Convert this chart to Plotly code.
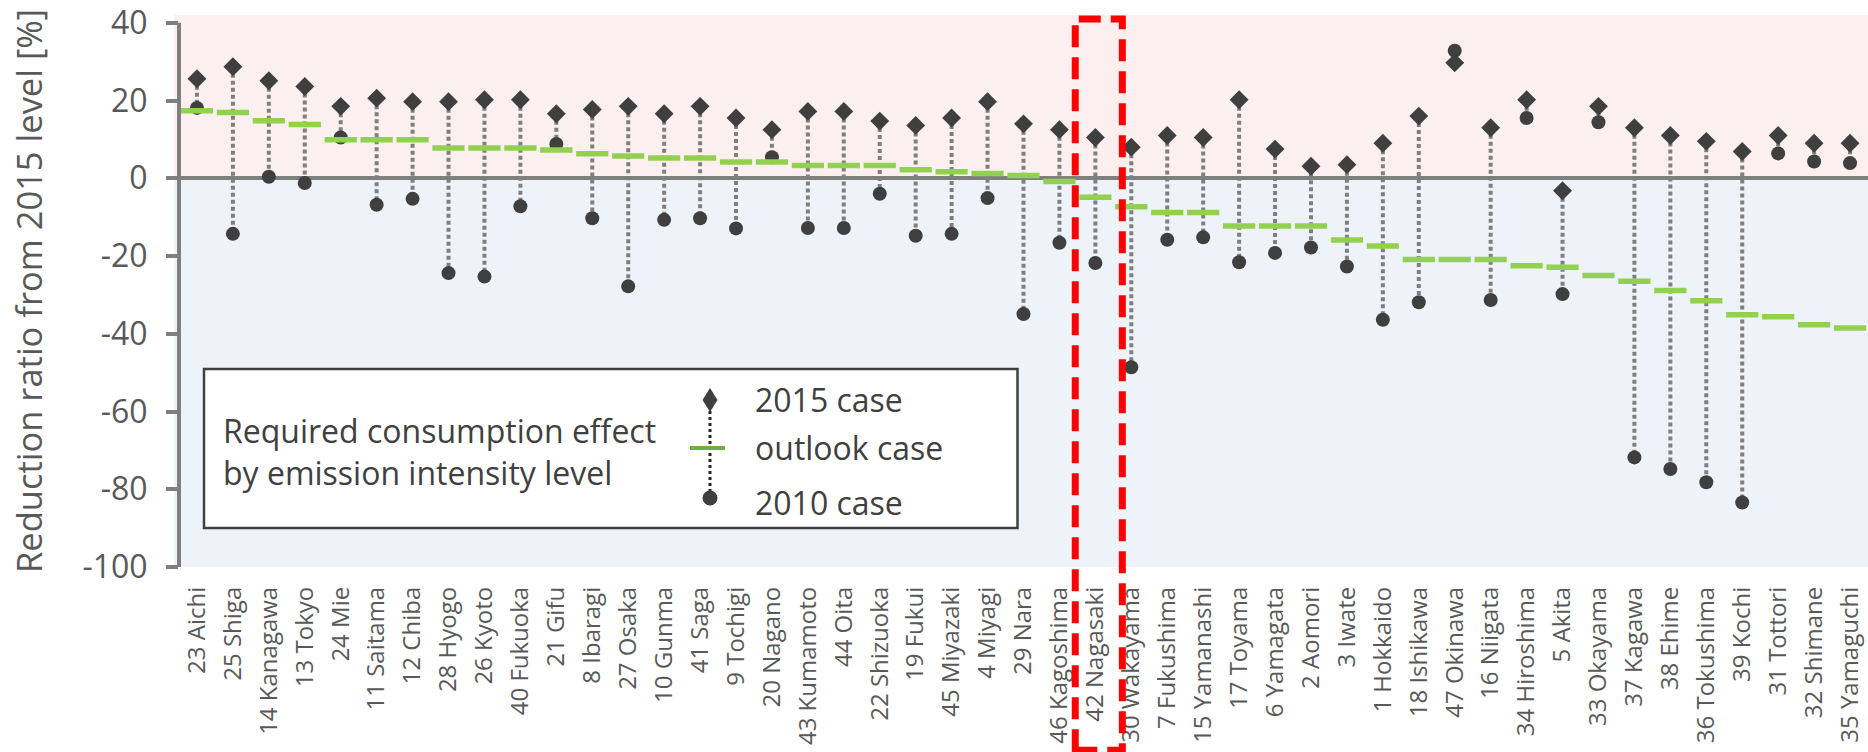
import plotly.graph_objects as go

# Prefectures, ordered by the outlook-case requirement
prefectures = [
    "23 Aichi", "25 Shiga", "14 Kanagawa", "13 Tokyo", "24 Mie", "11 Saitama",
    "12 Chiba", "28 Hyogo", "26 Kyoto", "40 Fukuoka", "21 Gifu", "8 Ibaragi",
    "27 Osaka", "10 Gunma", "41 Saga", "9 Tochigi", "20 Nagano", "43 Kumamoto",
    "44 Oita", "22 Shizuoka", "19 Fukui", "45 Miyazaki", "4 Miyagi", "29 Nara",
    "46 Kagoshima", "42 Nagasaki", "30 Wakayama", "7 Fukushima", "15 Yamanashi",
    "17 Toyama", "6 Yamagata", "2 Aomori", "3 Iwate", "1 Hokkaido", "18 Ishikawa",
    "47 Okinawa", "16 Niigata", "34 Hiroshima", "5 Akita", "33 Okayama",
    "37 Kagawa", "38 Ehime", "36 Tokushima", "39 Kochi", "31 Tottori",
    "32 Shimane", "35 Yamaguchi",
]

# Required reduction ratio from the 2015 level [%]
case_2015 = [
    25.6, 28.7, 25.1, 23.6, 18.5, 20.6, 19.7, 19.7, 20.2, 20.2,
    16.6, 17.7, 18.5, 16.6, 18.5, 15.5, 12.5, 17.2, 17.2, 14.7,
    13.6, 15.5, 19.7, 14.0, 12.5, 10.5, 8.0, 11.0, 10.5, 20.2,
    7.5, 3.1, 3.5, 9.0, 16.0, 29.7, 13.0, 20.2, -3.2, 18.5,
    13.0, 11.0, 9.5, 6.9, 11.0, 9.0, 9.0,
]
case_outlook = [
    17.4, 16.9, 14.8, 13.8, 9.9, 9.9, 9.9, 7.8, 7.8, 7.8,
    7.3, 6.3, 5.7, 5.2, 5.2, 4.2, 4.2, 3.3, 3.3, 3.3,
    2.2, 1.7, 1.2, 0.7, -0.8, -4.9, -7.3, -8.8, -8.8, -12.3,
    -12.3, -12.3, -15.9, -17.4, -20.9, -20.9, -20.9, -22.5, -22.9, -25.0,
    -26.5, -28.9, -31.5, -35.1, -35.6, -37.7, -38.5,
]
case_2010 = [
    18.1, -14.3, 0.4, -1.2, 10.5, -6.8, -5.3, -24.4, -25.3, -7.2,
    8.8, -10.3, -27.8, -10.7, -10.3, -12.9, 5.4, -12.8, -12.8, -4.0,
    -14.8, -14.3, -5.1, -34.9, -16.6, -21.8, -48.6, -15.8, -15.2, -21.6,
    -19.2, -17.8, -22.7, -36.4, -31.9, 32.8, -31.3, 15.5, -29.8, 14.4,
    -71.8, -74.8, -78.2, -83.4, 6.4, 4.3, 3.9,
]

y_ticks = [-100, -80, -60, -40, -20, 0, 20, 40]
y_tick_text = [str(v) for v in y_ticks]
highlight = "42 Nagasaki"

W, H = 1868, 752
ML, MR, MT, MB = 179, 0, 15, 185
PLOT_W, PLOT_H = W - ML - MR, H - MT - MB
Y_MIN, Y_MAX = -100, 42

TEXT = "#595959"
AXIS = "#7F7F7F"
MARK = "#3F3F3F"
GREEN = "#92D050"

n = len(prefectures)
idx = list(range(n))

# dotted high-low connectors between the 2015 and 2010 cases
cx, cy = [], []
for i, a, b in zip(idx, case_2015, case_2010):
    cx += [i, i, None]
    cy += [a, b, None]

fig = go.Figure()
fig.add_trace(go.Scatter(
    x=cx, y=cy, mode="lines",
    line=dict(color=AXIS, width=4, dash="4px,3px"),
    hoverinfo="skip",
))
fig.add_trace(go.Scatter(
    x=idx, y=case_2010, mode="markers", name="2010 case",
    marker=dict(symbol="circle", size=14, color=MARK),
))
fig.add_trace(go.Scatter(
    x=idx, y=case_2015, mode="markers", name="2015 case",
    marker=dict(symbol="diamond", size=14.5, color=MARK),
))
fig.add_trace(go.Scatter(
    x=idx, y=case_outlook, mode="markers", name="outlook case",
    marker=dict(symbol="line-ew", size=23, line=dict(color=GREEN, width=5.5)),
))
# pixel-space overlay used to lay out the legend box
fig.add_trace(go.Scatter(x=[None], y=[None], xaxis="x2", yaxis="y2",
                         hoverinfo="skip"))

shapes = [
    # positive / negative background bands
    dict(type="rect", xref="paper", yref="y", x0=-0.003, x1=1, y0=0, y1=Y_MAX,
         fillcolor="#FCEFEF", line=dict(width=0), layer="below"),
    dict(type="rect", xref="paper", yref="y", x0=-0.003, x1=1, y0=Y_MIN, y1=0,
         fillcolor="#EEF2F9", line=dict(width=0), layer="below"),
    # vertical axis line, from -100 to 40
    dict(type="line", xref="paper", yref="y", x0=0, x1=0, y0=Y_MIN, y1=40,
         line=dict(color=AXIS, width=4), layer="above"),
]

# legend box (x2/y2 map directly to page pixels)
lg = dict(xref="x2", yref="y2", layer="above")
shapes += [
    dict(type="rect", x0=204, x1=1017.5, y0=369, y1=528,
         fillcolor="white", line=dict(color="#404040", width=2.5), **lg),
    dict(type="line", x0=710, x1=710, y0=411, y1=491,
         line=dict(color="#262626", width=3, dash="3px,3px"), **lg),
    dict(type="line", x0=690, x1=725, y0=448, y1=448,
         line=dict(color="#70AD47", width=4), **lg),
    dict(type="path", path="M 710 388 L 717.5 400 L 710 412 L 702.5 400 Z",
         fillcolor=MARK, line=dict(width=0), **lg),
    dict(type="circle", x0=702.5, x1=717.5, y0=490.5, y1=505.5,
         fillcolor=MARK, line=dict(width=0), **lg),
]

# dashed red frame around the highlighted prefecture
hi = prefectures.index(highlight)
def xpaper(v):
    return (v + 0.5) / n
def ypaper(v):
    return (v - Y_MIN) / (Y_MAX - Y_MIN)
shapes.append(dict(
    type="rect", xref="paper", yref="paper",
    x0=xpaper(hi - 0.56), x1=xpaper(hi + 0.75),
    y0=-0.332, y1=ypaper(41),
    line=dict(color="#FF0000", width=7, dash="22px,10px"),
    fillcolor="rgba(0,0,0,0)", layer="above",
))

annotations = [
    dict(text="Reduction ratio from 2015 level [%]", textangle=-90,
         xref="paper", yref="paper", x=(28 - ML) / PLOT_W, y=0.5,
         xanchor="center", yanchor="middle", showarrow=False,
         font=dict(size=34.5, color=TEXT)),
    dict(text="Required consumption effect<br>by emission intensity level",
         xref="x2", yref="y2", x=221, y=451.5, xanchor="left", yanchor="middle",
         align="left", showarrow=False, font=dict(size=32, color="#404040")),
]
for label, ypx in [("2015 case", 399), ("outlook case", 447), ("2010 case", 502)]:
    annotations.append(dict(
        text=label, xref="x2", yref="y2", x=753, y=ypx,
        xanchor="left", yanchor="middle", showarrow=False,
        font=dict(size=32, color="#404040"),
    ))

fig.update_layout(
    width=W, height=H,
    margin=dict(l=ML, r=MR, t=MT, b=MB, pad=0),
    paper_bgcolor="white", plot_bgcolor="white",
    font=dict(family="Open Sans", color=TEXT),
    showlegend=False,
    xaxis=dict(
        range=[-0.5, n - 0.5], tickmode="array", tickvals=idx,
        ticktext=prefectures, tickangle=-90, ticks="", showline=False,
        showgrid=False, zeroline=False, ticklabelstandoff=14,
        tickfont=dict(size=24, color=TEXT),
    ),
    yaxis=dict(
        range=[Y_MIN, Y_MAX], tickmode="array", tickvals=y_ticks,
        ticktext=y_tick_text, ticklabeloverflow="allow",
        ticks="outside", ticklen=12, tickwidth=3.5, tickcolor=AXIS,
        showline=False, showgrid=False,
        zeroline=True, zerolinecolor=AXIS, zerolinewidth=4,
        ticklabelstandoff=12, tickfont=dict(size=32, color=TEXT),
    ),
    xaxis2=dict(overlaying="x", anchor="y2", range=[ML, W - MR], visible=False),
    yaxis2=dict(overlaying="y", anchor="x2", range=[H - MB, MT], visible=False),
    shapes=shapes,
    annotations=annotations,
)

fig.write_html("out.html")
